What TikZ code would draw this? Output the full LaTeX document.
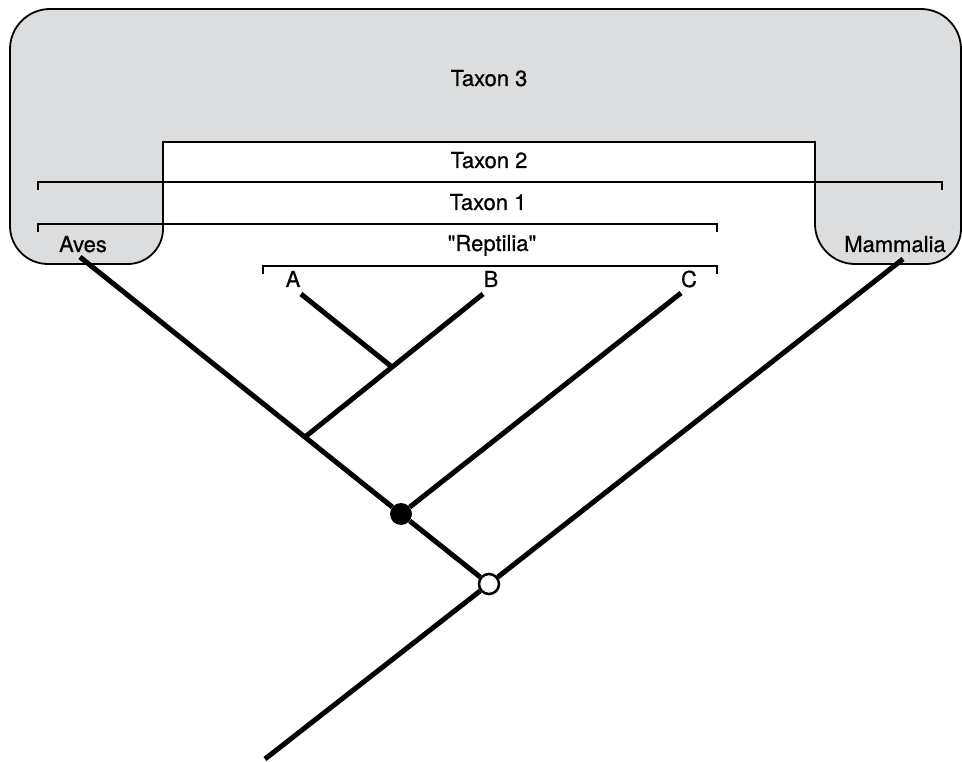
\documentclass[tikz,border=0pt]{standalone}
\usepackage{fontspec}
\setmainfont{TeX Gyre Heros}
\newfontfamily\medfont{TeX Gyre Heros}[FakeBold=0.6]
\definecolor{taxgray}{RGB}{220,221,223}
\begin{document}
\begin{tikzpicture}[x=1pt,y=-1pt,
  lbl/.style={anchor=base,inner sep=0pt,font=\medfont\fontsize{22}{26}\selectfont},
  clade/.style={line width=1.6pt},
  branch/.style={line width=5pt},
  ]
\useasboundingbox (0,0) rectangle (962,762);

% grey area of taxon 3
\filldraw[fill=taxgray,line width=1.8pt] (163,142) -- (815,142) -- (815,224)
  .. controls (815,246) and (833,264) .. (855,264) -- (926,264)
  .. controls (945,264) and (961,248) .. (961,229) -- (961,49)
  .. controls (961,27) and (943,9) .. (921,9) -- (50,9)
  .. controls (28,9) and (10,27) .. (10,49) -- (10,226)
  .. controls (10,247) and (27,264) .. (48,264) -- (128,264)
  .. controls (147,264) and (163,248) .. (163,229) -- cycle;

% brackets
\draw[clade] (38,190) -- (38,182) -- (942,182) -- (942,190);
\draw[clade] (38,232) -- (38,224) -- (717,224) -- (717,232);
\draw[clade] (263,274) -- (263,266) -- (717,266) -- (717,274);

\node[lbl] (tax3) at (489,86) {Taxon 3};
\node[lbl] (tax2) at (489,168) {Taxon 2};
\node[lbl] (tax1) at (488,210) {Taxon 1};
\node[lbl] (rept) at (492,251) {\textquotedbl Reptilia\textquotedbl};
\node[lbl] (aves) at (83,252) {Aves};
\node[lbl] (mamm) at (895,252) {Mammalia};
\node[lbl] (labA) at (293,287) {A};
\node[lbl] (labB) at (491,287) {B};
\node[lbl] (labC) at (689,287) {C};

% tree
\coordinate (tipAves) at (80,257);
\coordinate (tipMamm) at (903,259);
\coordinate (tipA) at (301,294);
\coordinate (tipB) at (483,294);
\coordinate (tipC) at (681,293);
\coordinate (jAB) at (392,367);
\coordinate (jRep) at (305,437);
\coordinate (root) at (265,759);
\node[circle,fill=black,minimum size=22pt,inner sep=0pt] (bdot) at (401,514) {};
\node[circle,draw,fill=white,line width=2.5pt,minimum size=20pt,inner sep=0pt] (wdot) at (489,584) {};

\draw[branch] (tipAves) -- (bdot);
\draw[branch] (bdot) -- (wdot);
\draw[branch] (tipMamm) -- (wdot);
\draw[branch] (wdot) -- (root);
\draw[branch] (tipC) -- (bdot);
\draw[branch] (tipB) -- (jRep);
\draw[branch] (tipA) -- (jAB);
\end{tikzpicture}
\end{document}
